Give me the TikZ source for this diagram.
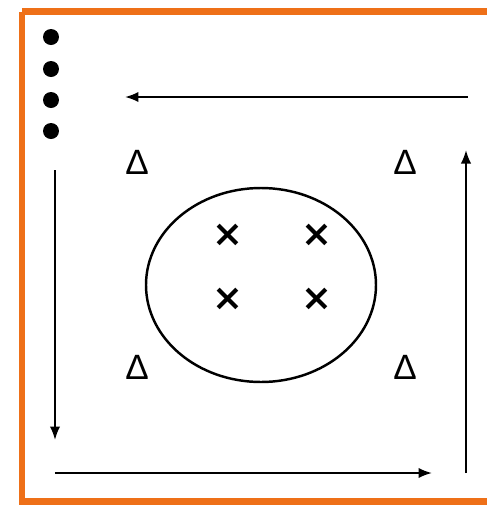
\documentclass[tikz,border=0pt]{standalone}
\usepackage{fontspec}
\usepackage{xcolor}
\definecolor{frameorange}{RGB}{238,112,24}
\newfontfamily\trifont{Liberation Sans}
\newfontfamily\crossfont{DejaVu Sans}
\usetikzlibrary{arrows.meta, positioning}

\begin{document}
\begin{tikzpicture}[x=0.02cm, y=-0.02cm,
    flow/.style={line width=1.2pt, -{Latex[length=0.27cm, width=0.21cm]}},
    tri/.style={inner sep=0pt, font=\trifont\fontsize{20}{20}\selectfont},
    cross/.style={inner sep=0pt, font=\crossfont\bfseries\fontsize{21}{21}\selectfont},
    dot/.style={circle, fill=black, inner sep=0pt, minimum size=0.32cm}]

  % Page size
  \useasboundingbox (0,0) rectangle (487,505);

  % Orange frame
  \draw[frameorange, line width=0.14cm] (22,11.5) -- (22,501) -- (495,501)
        (22,11.5) -- (495,11.5);

  % Stack of dots
  \node[dot] (d1) at (51,37) {};
  \node[dot] (d2) at (51,69) {};
  \node[dot] (d3) at (51,100) {};
  \node[dot] (d4) at (51,131) {};

  % Arrow end points
  \coordinate (tr) at (468,97);
  \coordinate (tl) at (125,97);
  \coordinate (lt) at (55,170);
  \coordinate (lb) at (55,440);
  \coordinate (bl) at (55,473);
  \coordinate (br) at (432,473);
  \coordinate (rb) at (466,473);
  \coordinate (rt) at (466,150);

  % Arrows around the square
  \draw[flow] (tr) -- (tl);
  \draw[flow] (lt) -- (lb);
  \draw[flow] (bl) -- (br);
  \draw[flow] (rb) -- (rt);

  % Triangles in the corners
  \node[tri] (t1) at (137,162) {Δ};
  \node[tri] (t2) at (405,162) {Δ};
  \node[tri] (t3) at (137,367) {Δ};
  \node[tri] (t4) at (405,367) {Δ};

  % Ellipse with crosses
  \draw[line width=1.4pt] (261,285) ellipse [x radius=115, y radius=97];
  \node[cross] (x1) at (228,235) {×};
  \node[cross] (x2) at (317,235) {×};
  \node[cross] (x3) at (228,299) {×};
  \node[cross] (x4) at (317,299) {×};

\end{tikzpicture}
\end{document}
